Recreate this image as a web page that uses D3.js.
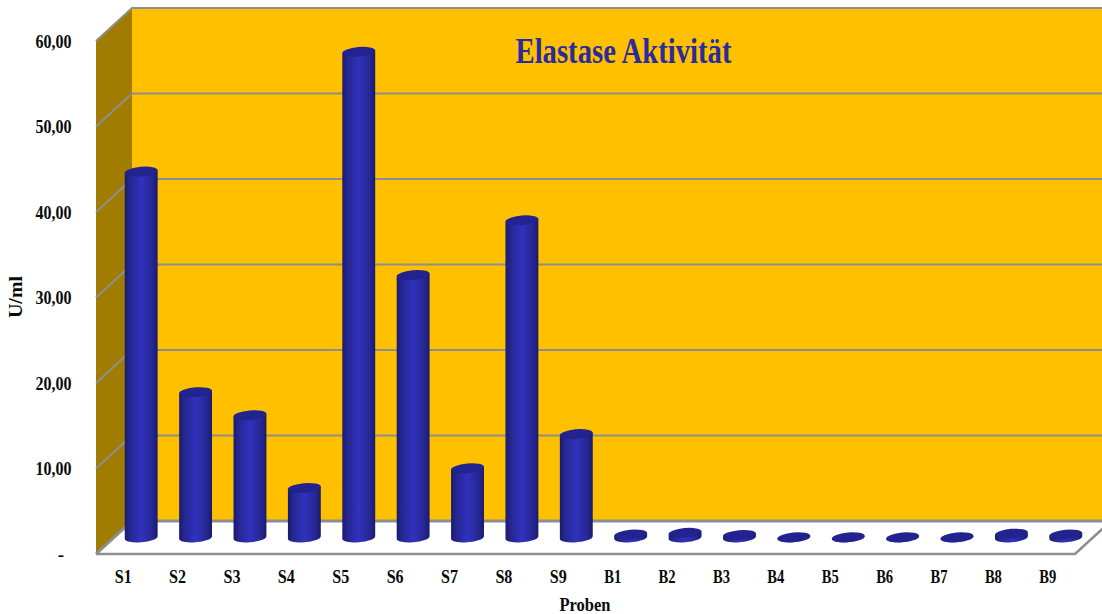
<!DOCTYPE html>
<html lang="de">
<head>
<meta charset="utf-8">
<title>Elastase Aktivität</title>
<script src="https://cdn.jsdelivr.net/npm/d3@7/dist/d3.min.js"></script>
<style>
  html, body { margin: 0; padding: 0; background: #fff; }
  svg { display: block; }
  text { font-family: "Liberation Serif", "Times New Roman", serif; font-weight: bold; fill: #0a0a0a; }
</style>
</head>
<body>
<svg id="chart" width="1102" height="614"></svg>
<script>
// Elastase activity per sample
const samples = ["S1","S2","S3","S4","S5","S6","S7","S8","S9","B1","B2","B3","B4","B5","B6","B7","B8","B9"];
const activity = [42.8, 17.0, 14.3, 5.8, 56.8, 30.7, 8.1, 37.1, 12.1, 0.35, 0.55, 0.3, 0.03, 0.03, 0.03, 0.03, 0.45, 0.35];
const yTicks = [0, 10, 20, 30, 40, 50, 60];
const yTickLabels = ["-", "10,00", "20,00", "30,00", "40,00", "50,00", "60,00"];

const W = 1102, H = 614;
const svg = d3.select("#chart");

// Front plane of the 3D box; the back wall is offset by the depth vector
const x = d3.scaleBand().domain(samples).range([96, 1075]);
const y = d3.scaleLinear().domain([0, 60]).range([554, 41]);
const depth = { x: 36, y: -33 };

const wallColor = "#FFC000", sideColor = "#A07C00", gridColor = "#8E8E8E";
const axisX0 = x.range()[0], axisX1 = x.range()[1];

const defs = svg.append("defs");
const grad = defs.append("linearGradient").attr("id", "cyl").attr("x1", 0).attr("x2", 1).attr("y1", 0).attr("y2", 0);
[[0, "#1A1B6C"], [0.15, "#25268F"], [0.5, "#3032BE"], [0.85, "#25268F"], [1, "#1A1B6C"]].forEach(([o, c]) =>
  grad.append("stop").attr("offset", o).attr("stop-color", c));

const poly = pts => "M" + pts.map(p => p.join(",")).join("L") + "Z";

// Back wall, clipped by the page edge as the box runs past it
svg.append("rect")
  .attr("x", axisX0 + depth.x).attr("y", y(60) + depth.y)
  .attr("width", W - axisX0 - depth.x).attr("height", y(0) - y(60))
  .attr("fill", wallColor);

// Side wall
svg.append("path")
  .attr("d", poly([[axisX0, y(60)], [axisX0 + depth.x, y(60) + depth.y], [axisX0 + depth.x, y(0) + depth.y], [axisX0, y(0)]]))
  .attr("fill", sideColor);

// Floor
svg.append("path")
  .attr("d", poly([[axisX0, y(0)], [axisX0 + depth.x, y(0) + depth.y], [axisX1 + depth.x, y(0) + depth.y], [axisX1, y(0)]]))
  .attr("fill", "#fff");

// Gridlines on the back and side walls
const grid = svg.append("g").attr("stroke", gridColor).attr("fill", "none");
grid.selectAll("path.tick").data(yTicks).join("path")
  .attr("class", "tick")
  .attr("stroke-width", d => d === 0 ? 3 : 2)
  .attr("d", d => `M${axisX0},${y(d)}L${axisX0 + depth.x},${y(d) + depth.y}L${W},${y(d) + depth.y}`);

// Front edge and right edge of the floor
grid.append("path")
  .attr("stroke-width", 2.5)
  .attr("d", `M${axisX0},${y(0)}L${axisX1},${y(0)}L${axisX1 + depth.x},${y(0) + depth.y}`);

// Cylinders stand in the middle of the box depth
const rx = 16.5, ry = 4.8, tilt = -5;
const phi = tilt * Math.PI / 180;
const t = Math.atan2(-ry * Math.sin(phi), rx * Math.cos(phi));
const ex = rx * Math.cos(t) * Math.cos(phi) - ry * Math.sin(t) * Math.sin(phi);
const ey = rx * Math.cos(t) * Math.sin(phi) + ry * Math.sin(t) * Math.cos(phi);

const bars = svg.append("g").selectAll("g").data(samples).join("g")
  .attr("transform", d => `translate(${x(d) + x.bandwidth() / 2 + depth.x / 2},${depth.y / 2})`);

bars.append("path")
  .attr("fill", "url(#cyl)")
  .attr("d", (d, i) => {
    const yb = y(0), yt = y(activity[i]);
    return `M${-ex},${yt - ey}L${-ex},${yb - ey}A${rx},${ry} ${tilt} 0 0 ${ex},${yb + ey}L${ex},${yt + ey}Z`;
  });

bars.append("ellipse")
  .attr("rx", rx).attr("ry", ry)
  .attr("fill", "#22238F")
  .attr("transform", (d, i) => `translate(0,${y(activity[i])}) rotate(${tilt})`);

// Value axis labels
svg.append("g").selectAll("text").data(yTicks).join("text")
  .attr("x", d => d === 0 ? 64 : 71.5)
  .attr("y", d => y(d) + 6.5)
  .attr("text-anchor", "end")
  .attr("font-size", 19)
  .attr("textLength", d => d === 0 ? null : 36)
  .attr("lengthAdjust", "spacingAndGlyphs")
  .text((d, i) => yTickLabels[i]);

// Sample labels
svg.append("g").selectAll("text").data(samples).join("text")
  .attr("x", d => x(d) + x.bandwidth() / 2)
  .attr("y", 583)
  .attr("text-anchor", "middle")
  .attr("font-size", 19)
  .attr("textLength", 17)
  .attr("lengthAdjust", "spacingAndGlyphs")
  .text(d => d);

// Axis titles
svg.append("text")
  .attr("transform", "translate(22,297) rotate(-90)")
  .attr("text-anchor", "middle")
  .attr("font-size", 19)
  .attr("textLength", 42)
  .attr("lengthAdjust", "spacingAndGlyphs")
  .text("U/ml");

svg.append("text")
  .attr("x", 585).attr("y", 611)
  .attr("text-anchor", "middle")
  .attr("font-size", 18)
  .attr("textLength", 51)
  .attr("lengthAdjust", "spacingAndGlyphs")
  .text("Proben");

// Chart title
svg.append("text")
  .attr("x", 623.5).attr("y", 63)
  .attr("text-anchor", "middle")
  .attr("font-size", 36)
  .attr("textLength", 216)
  .attr("lengthAdjust", "spacingAndGlyphs")
  .style("fill", "#2B2C9C")
  .text("Elastase Aktivität");
</script>
</body>
</html>
